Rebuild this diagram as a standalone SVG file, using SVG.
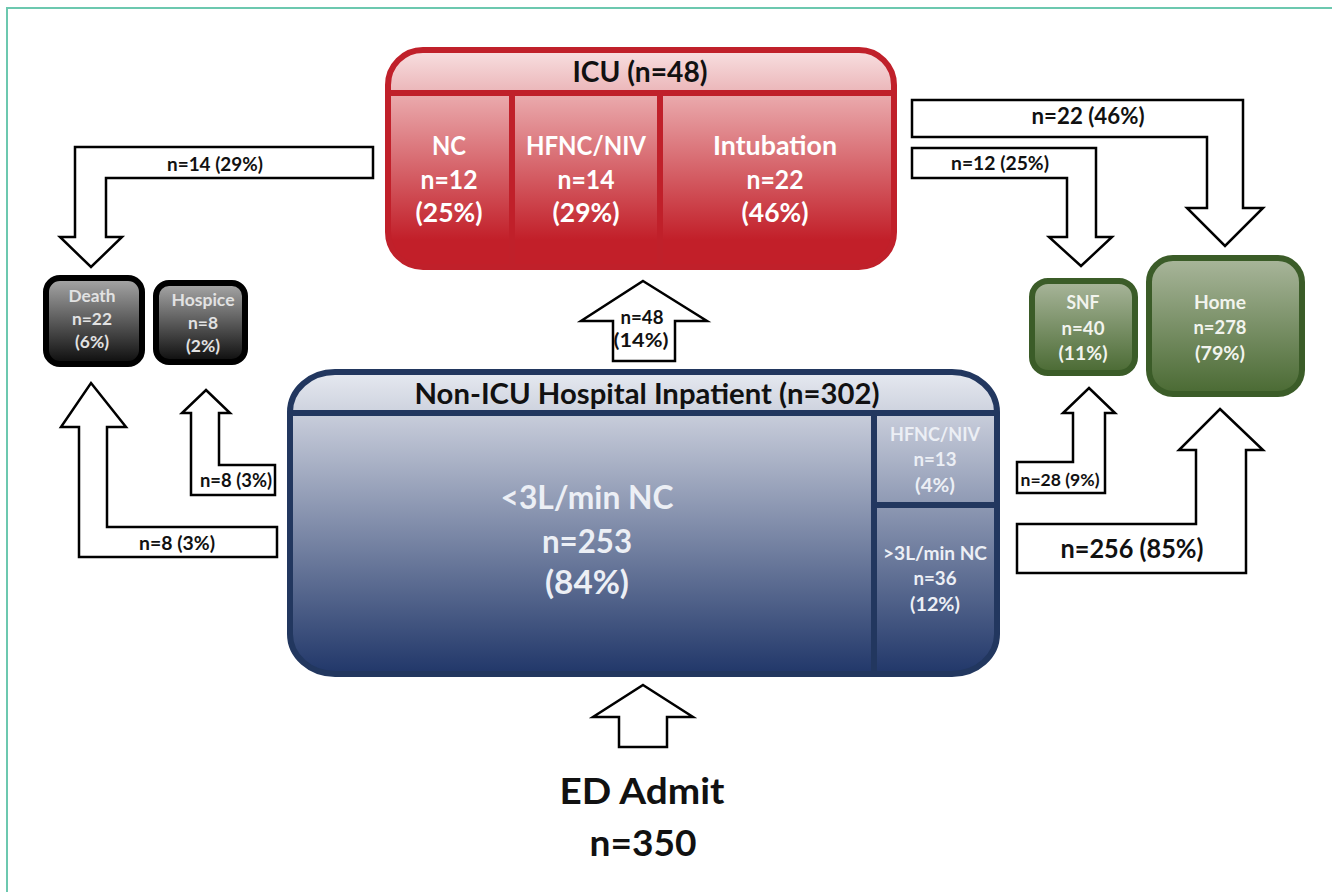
<svg xmlns="http://www.w3.org/2000/svg" width="1332" height="892" viewBox="0 0 1332 892">
<style>
text{font-family:Lato,"Open Sans","Liberation Sans",sans-serif;font-weight:bold;text-anchor:middle}
.arrow{fill:#ffffff;stroke:#000000;stroke-width:2.5;stroke-linejoin:miter}
.al{fill:#111111}
.wt{fill:#ffffff}
.lt{fill:#eceff5}
.gt{fill:#e2e2e2}
.grt{fill:#f2f4ee}
.frame{fill:none;stroke:#6cc8af;stroke-width:2}
</style>
<defs>
<linearGradient id="icuHead" x1="0" y1="50" x2="0" y2="93" gradientUnits="userSpaceOnUse"><stop offset="0" stop-color="#f8e0e1"/><stop offset="1" stop-color="#ebb5b8"/></linearGradient>
<linearGradient id="icuBody" x1="0" y1="96" x2="0" y2="240" gradientUnits="userSpaceOnUse"><stop offset="0" stop-color="#eaa9ac"/><stop offset="1" stop-color="#c21f29"/></linearGradient>
<linearGradient id="nonHead" x1="0" y1="372" x2="0" y2="413" gradientUnits="userSpaceOnUse"><stop offset="0" stop-color="#e6e9f0"/><stop offset="1" stop-color="#cdd2de"/></linearGradient>
<linearGradient id="nonBody" x1="0" y1="416" x2="0" y2="672" gradientUnits="userSpaceOnUse"><stop offset="0" stop-color="#c7ccda"/><stop offset="1" stop-color="#22386a"/></linearGradient>
<linearGradient id="black" x1="0" y1="0" x2="0" y2="1"><stop offset="0" stop-color="#a8a8a8"/><stop offset="1" stop-color="#0c0c0c"/></linearGradient>
<linearGradient id="green" x1="0" y1="0" x2="0" y2="1"><stop offset="0" stop-color="#a9b69b"/><stop offset="1" stop-color="#4a6a33"/></linearGradient>
<clipPath id="icuClip"><rect x="388" y="50" width="506" height="217" rx="35" ry="35"/></clipPath>
<clipPath id="nonClip"><rect x="290" y="372" width="707" height="302" rx="45" ry="40"/></clipPath>
</defs>

<polyline class="frame" points="7,892 7,8 1332,8"/>

<g id="icu">
<rect x="388" y="50" width="506" height="217" rx="35" ry="35" fill="url(#icuBody)"/>
<rect x="385" y="47" width="512" height="46" fill="url(#icuHead)" clip-path="url(#icuClip)"/>
<rect x="388" y="50" width="506" height="217" rx="35" ry="35" fill="none" stroke="#c0202a" stroke-width="6"/>
<line x1="388" y1="93" x2="894" y2="93" stroke="#c0202a" stroke-width="6"/>
<line x1="512" y1="93" x2="512" y2="266" stroke="#c0202a" stroke-width="6"/>
<line x1="660" y1="93" x2="660" y2="266" stroke="#c0202a" stroke-width="6"/>
<text x="640" y="82" font-size="29" class="al" textLength="135" lengthAdjust="spacingAndGlyphs">ICU (n=48)</text>
<text x="449" y="155" font-size="26" class="wt" textLength="34" lengthAdjust="spacingAndGlyphs">NC</text>
<text x="449" y="189" font-size="26" class="wt" textLength="57" lengthAdjust="spacingAndGlyphs">n=12</text>
<text x="449" y="222" font-size="26" class="wt" textLength="67" lengthAdjust="spacingAndGlyphs">(25%)</text>
<text x="586" y="155" font-size="26" class="wt" textLength="120" lengthAdjust="spacingAndGlyphs">HFNC/NIV</text>
<text x="586" y="189" font-size="26" class="wt" textLength="57" lengthAdjust="spacingAndGlyphs">n=14</text>
<text x="586" y="222" font-size="26" class="wt" textLength="67" lengthAdjust="spacingAndGlyphs">(29%)</text>
<text x="775" y="155" font-size="26" class="wt" textLength="124" lengthAdjust="spacingAndGlyphs">Intubation</text>
<text x="775" y="189" font-size="26" class="wt" textLength="57" lengthAdjust="spacingAndGlyphs">n=22</text>
<text x="775" y="222" font-size="26" class="wt" textLength="67" lengthAdjust="spacingAndGlyphs">(46%)</text>
</g>

<g id="nonicu">
<rect x="290" y="372" width="707" height="302" rx="45" ry="40" fill="url(#nonBody)"/>
<rect x="287" y="369" width="713" height="44" fill="url(#nonHead)" clip-path="url(#nonClip)"/>
<rect x="290" y="372" width="707" height="302" rx="45" ry="40" fill="none" stroke="#22375f" stroke-width="6"/>
<line x1="290" y1="413" x2="997" y2="413" stroke="#22375f" stroke-width="6"/>
<line x1="874" y1="413" x2="874" y2="674" stroke="#22375f" stroke-width="6"/>
<line x1="874" y1="505" x2="997" y2="505" stroke="#22375f" stroke-width="6"/>
<text x="647" y="404" font-size="29" class="al" textLength="465" lengthAdjust="spacingAndGlyphs">Non-ICU Hospital Inpatient (n=302)</text>
<text x="587" y="509" font-size="32" class="lt" textLength="173" lengthAdjust="spacingAndGlyphs">&lt;3L/min NC</text>
<text x="587" y="553" font-size="32" class="lt" textLength="90" lengthAdjust="spacingAndGlyphs">n=253</text>
<text x="587" y="594" font-size="32" class="lt" textLength="84" lengthAdjust="spacingAndGlyphs">(84%)</text>
<text x="935" y="441" font-size="19" class="lt" textLength="90" lengthAdjust="spacingAndGlyphs">HFNC/NIV</text>
<text x="935" y="466" font-size="19" class="lt" textLength="43" lengthAdjust="spacingAndGlyphs">n=13</text>
<text x="935" y="492" font-size="19" class="lt" textLength="40" lengthAdjust="spacingAndGlyphs">(4%)</text>
<text x="935" y="560" font-size="19" class="lt" textLength="104" lengthAdjust="spacingAndGlyphs">&gt;3L/min NC</text>
<text x="935" y="585" font-size="19" class="lt" textLength="43" lengthAdjust="spacingAndGlyphs">n=36</text>
<text x="935" y="611" font-size="19" class="lt" textLength="50" lengthAdjust="spacingAndGlyphs">(12%)</text>
</g>

<g id="death">
<rect x="46" y="278" width="96" height="86" rx="14" fill="url(#black)" stroke="#000000" stroke-width="6"/>
<text x="92" y="302" font-size="17" class="gt" textLength="47" lengthAdjust="spacingAndGlyphs">Death</text>
<text x="92" y="325" font-size="17" class="gt" textLength="40" lengthAdjust="spacingAndGlyphs">n=22</text>
<text x="92" y="348" font-size="17" class="gt" textLength="34" lengthAdjust="spacingAndGlyphs">(6%)</text>
</g>

<g id="hospice">
<rect x="156" y="283" width="89" height="79" rx="13" fill="url(#black)" stroke="#000000" stroke-width="6"/>
<text x="203" y="306" font-size="17" class="gt" textLength="63" lengthAdjust="spacingAndGlyphs">Hospice</text>
<text x="203" y="329" font-size="17" class="gt" textLength="30" lengthAdjust="spacingAndGlyphs">n=8</text>
<text x="203" y="352" font-size="17" class="gt" textLength="34" lengthAdjust="spacingAndGlyphs">(2%)</text>
</g>

<g id="snf">
<rect x="1032" y="281" width="103" height="92" rx="16" fill="url(#green)" stroke="#3b5c28" stroke-width="6"/>
<text x="1083" y="309" font-size="18" class="grt" textLength="33" lengthAdjust="spacingAndGlyphs">SNF</text>
<text x="1083" y="335" font-size="18" class="grt" textLength="43" lengthAdjust="spacingAndGlyphs">n=40</text>
<text x="1083" y="360" font-size="18" class="grt" textLength="49" lengthAdjust="spacingAndGlyphs">(11%)</text>
</g>

<g id="home">
<rect x="1149" y="258" width="153" height="136" rx="24" fill="url(#green)" stroke="#3b5c28" stroke-width="6"/>
<text x="1220" y="309" font-size="18" class="grt" textLength="52" lengthAdjust="spacingAndGlyphs">Home</text>
<text x="1220" y="334" font-size="18" class="grt" textLength="53" lengthAdjust="spacingAndGlyphs">n=278</text>
<text x="1220" y="360" font-size="18" class="grt" textLength="50" lengthAdjust="spacingAndGlyphs">(79%)</text>
</g>

<g id="edadmit">
<text x="642" y="804" font-size="37" class="al" textLength="165" lengthAdjust="spacingAndGlyphs">ED Admit</text>
<text x="643" y="856" font-size="37" class="al" textLength="107" lengthAdjust="spacingAndGlyphs">n=350</text>
</g>

<g id="connectors">
<polygon class="arrow" points="373,147 75,147 75,237 60,237 91,267 122,237 106,237 106,178 373,178"/>
<text x="215" y="171" font-size="18" class="al" textLength="96" lengthAdjust="spacingAndGlyphs">n=14 (29%)</text>

<polygon class="arrow" points="91,383 126,427 107,427 107,527 277,527 277,557 79,557 79,427 61,427"/>
<text x="177" y="550" font-size="18" class="al" textLength="76" lengthAdjust="spacingAndGlyphs">n=8 (3%)</text>

<polygon class="arrow" points="206,390 230,413 219,413 219,465 275,465 275,495 191,495 191,413 182,413"/>
<text x="236" y="487" font-size="18" class="al" textLength="72" lengthAdjust="spacingAndGlyphs">n=8 (3%)</text>

<polygon class="arrow" points="643,281 707,321 675,321 675,361 613,361 613,321 581,321"/>
<text x="642" y="324" font-size="18" class="al" textLength="43" lengthAdjust="spacingAndGlyphs">n=48</text>
<text x="641" y="347" font-size="18" class="al" textLength="55" lengthAdjust="spacingAndGlyphs">(14%)</text>

<polygon class="arrow" points="643,685 693,717 667,717 667,747 619,747 619,717 593,717"/>

<polygon class="arrow" points="912,100 1243,100 1243,208 1263,208 1225,246 1187,208 1207,208 1207,137 912,137"/>
<text x="1088" y="124" font-size="22" class="al" textLength="113" lengthAdjust="spacingAndGlyphs">n=22 (46%)</text>

<polygon class="arrow" points="912,148 1096,148 1096,237 1112,237 1081,266 1049,237 1067,237 1067,178 912,178"/>
<text x="1000" y="170" font-size="18" class="al" textLength="98" lengthAdjust="spacingAndGlyphs">n=12 (25%)</text>

<polygon class="arrow" points="1089,388 1115,413 1105,413 1105,493 1017,493 1017,462 1073,462 1073,413 1063,413"/>
<text x="1060" y="486" font-size="17" class="al" textLength="79" lengthAdjust="spacingAndGlyphs">n=28 (9%)</text>

<polygon class="arrow" points="1220,409 1263,450 1246,450 1246,573 1017,573 1017,524 1196,524 1196,450 1179,450"/>
<text x="1132" y="558" font-size="26" class="al" textLength="143" lengthAdjust="spacingAndGlyphs">n=256 (85%)</text>
</g>
</svg>
